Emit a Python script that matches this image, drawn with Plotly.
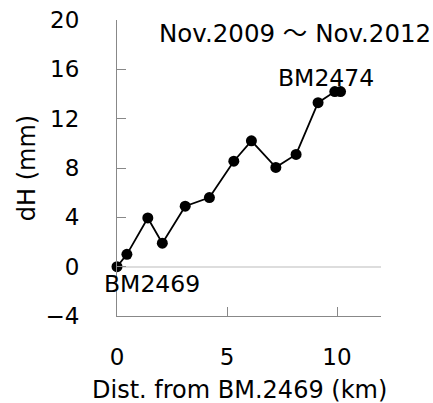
import plotly.graph_objects as go

dist_km = [0.0, 0.45, 1.4, 2.06, 3.1, 4.2, 5.31, 6.11, 7.22, 8.14, 9.14, 9.9, 10.16]
dh_mm = [0.0, 1.0, 3.95, 1.9, 4.9, 5.6, 8.55, 10.2, 8.05, 9.1, 13.3, 14.2, 14.2]
x_ticks = [0, 5, 10]
y_ticks = [-4, 0, 4, 8, 12, 16, 20]

FONT = "DejaVu Sans, Noto Sans CJK JP"
TXT = dict(family=FONT, size=23.5, color="black")
fig = go.Figure()
fig.add_trace(go.Scatter(
    x=dist_km, y=dh_mm, mode="lines+markers",
    line=dict(color="black", width=1.8),
    marker=dict(color="black", size=11),
    showlegend=False, cliponaxis=False,
))

fig.add_annotation(x=1.59, y=-1.38, xref="x", yref="y", text="BM2469", showarrow=False,
                   font=TXT, xanchor="center", yanchor="middle")
fig.add_annotation(x=9.5, y=15.3, xref="x", yref="y", text="BM2474", showarrow=False,
                   font=TXT, xanchor="center", yanchor="middle")
fig.add_annotation(x=0.675, y=0.956, xref="paper", yref="paper", text="Nov.2009 ～ Nov.2012",
                   showarrow=False, font=dict(family=FONT, size=24.5, color="black"),
                   xanchor="center", yanchor="middle")
fig.add_annotation(x=0.464, y=-0.25, xref="paper", yref="paper", text="Dist. from BM.2469 (km)",
                   showarrow=False, font=dict(family=FONT, size=24, color="black"),
                   xanchor="center", yanchor="middle")
fig.add_annotation(x=-0.34, y=0.5, xref="paper", yref="paper", text="dH (mm)", textangle=-90,
                   showarrow=False, font=dict(family=FONT, size=24, color="black"),
                   xanchor="center", yanchor="middle")

fig.update_layout(
    width=433, height=403,
    margin=dict(l=117, r=52, t=20, b=87, autoexpand=False),
    paper_bgcolor="white", plot_bgcolor="white",
    font=dict(family=FONT, size=23, color="black"),
    xaxis=dict(range=[0, 12], tickvals=x_ticks, ticks="inside", ticklen=9, tickcolor="#888",
               showline=True, linecolor="#888", linewidth=1, showgrid=False, zeroline=False,
               ticklabelstandoff=20, automargin=False),
    yaxis=dict(range=[-4, 20], tickvals=y_ticks, ticks="inside", ticklen=9, tickcolor="#888",
               showline=True, linecolor="#888", linewidth=1, showgrid=False,
               zeroline=True, zerolinecolor="#ddd", zerolinewidth=1.5,
               ticklabelstandoff=32, automargin=False),
)
fig.write_html("out.html")
